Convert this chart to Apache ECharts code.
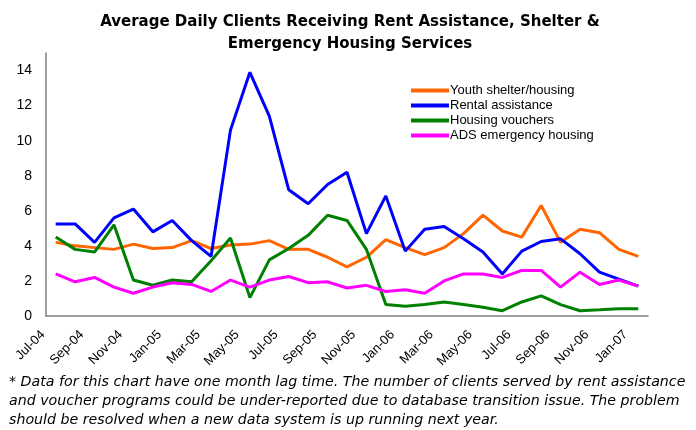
<!DOCTYPE html>
<html>
<head>
<meta charset="utf-8">
<script src="https://cdn.jsdelivr.net/npm/echarts@6/dist/echarts.min.js"></script>
<style>
  html, body { margin: 0; padding: 0; background: #fff; }
  #chart { width: 696px; height: 430px; }
</style>
</head>
<body>
<div id="chart"></div>
<script>
// Monthly categories, Jul-04 .. Jan-07
const months = [
    'Jul-04', 'Aug-04', 'Sep-04', 'Oct-04', 'Nov-04', 'Dec-04',
    'Jan-05', 'Feb-05', 'Mar-05', 'Apr-05', 'May-05', 'Jun-05',
    'Jul-05', 'Aug-05', 'Sep-05', 'Oct-05', 'Nov-05', 'Dec-05',
    'Jan-06', 'Feb-06', 'Mar-06', 'Apr-06', 'May-06', 'Jun-06',
    'Jul-06', 'Aug-06', 'Sep-06', 'Oct-06', 'Nov-06', 'Dec-06',
    'Jan-07'
];

const youthShelter = [
    4.2, 4.0, 3.9, 3.8, 4.1, 3.85, 3.9, 4.3, 3.85, 4.05, 4.1, 4.3,
    3.8, 3.8, 3.35, 2.8, 3.35, 4.35, 3.9, 3.5, 3.9, 4.7, 5.75, 4.85,
    4.5, 6.3, 4.2, 4.95, 4.75, 3.8, 3.4
];

const rentalAssistance = [
    5.25, 5.25, 4.2, 5.6, 6.1, 4.8, 5.45, 4.3, 3.4, 10.6, 13.9, 11.4,
    7.2, 6.4, 7.5, 8.2, 4.7, 6.85, 3.7, 4.95, 5.1, 4.4, 3.65, 2.4,
    3.7, 4.25, 4.4, 3.55, 2.5, 2.1, 1.7
];

const housingVouchers = [
    4.5, 3.8, 3.65, 5.2, 2.05, 1.75, 2.05, 1.95, 3.15, 4.45, 1.05, 3.2,
    3.85, 4.6, 5.75, 5.45, 3.8, 0.65, 0.55, 0.65, 0.8, 0.65, 0.5, 0.3,
    0.8, 1.15, 0.65, 0.3, 0.35, 0.42, 0.42
];

const adsEmergency = [
    2.4, 1.95, 2.2, 1.65, 1.3, 1.65, 1.9, 1.8, 1.4, 2.05, 1.65, 2.05,
    2.25, 1.9, 1.95, 1.6, 1.75, 1.4, 1.5, 1.3, 2.0, 2.4, 2.4, 2.2,
    2.6, 2.6, 1.65, 2.5, 1.8, 2.05, 1.7
];

const seriesNames = ['Youth shelter/housing', 'Rental assistance', 'Housing vouchers', 'ADS emergency housing'];
const seriesColors = ['#FF6600', '#0000FF', '#008000', '#FF00FF'];

const footnote = [
    '* Data for this chart have one month lag time. The number of clients served by rent assistance',
    'and voucher programs could be under-reported due to database transition issue. The problem',
    'should be resolved when a new data system is up running next year.'
];

const FONT = '"Liberation Sans", Arial, sans-serif';
const WIDE_FONT = '"DejaVu Sans", sans-serif';

const chart = echarts.init(document.getElementById('chart'));

function lineSeries(name, data, color) {
    return {
        name: name,
        type: 'line',
        data: data,
        symbol: 'none',
        lineStyle: { width: 3, color: color },
        itemStyle: { color: color },
        emphasis: { disabled: true }
    };
}

const option = {
    animation: false,
    textStyle: { fontFamily: FONT },
    title: {
        text: 'Average Daily Clients Receiving Rent Assistance, Shelter &\nEmergency Housing Services',
        left: 345,
        textAlign: 'center',
        top: 6,
        textStyle: {
            fontFamily: WIDE_FONT,
            fontSize: 15,
            fontWeight: 'bold',
            color: '#000',
            lineHeight: 22
        }
    },
    legend: {
        orient: 'vertical',
        left: 406,
        top: 79,
        itemWidth: 38,
        itemHeight: 4,
        itemGap: 2,
        icon: 'rect',
        textStyle: { fontFamily: FONT, fontSize: 13, color: '#000', padding: [0, 0, 0, -4] },
        data: seriesNames
    },
    grid: {
        left: 46,
        right: 48,
        top: 53,
        bottom: 114,
        containLabel: false
    },
    xAxis: {
        type: 'category',
        data: months,
        boundaryGap: true,
        axisLine: { lineStyle: { color: '#808080', width: 1.5 } },
        axisTick: { show: false },
        axisLabel: {
            interval: 1,
            rotate: 45,
            margin: 4,
            fontSize: 13,
            color: '#000',
            padding: [0, 18, 0, 0]
        },
        splitLine: { show: false }
    },
    yAxis: {
        type: 'value',
        min: 0,
        max: 15,
        interval: 2,
        axisLine: { show: true, lineStyle: { color: '#808080', width: 1.5 } },
        axisTick: { show: false },
        axisLabel: { fontSize: 14, color: '#000', margin: 14, showMaxLabel: false },
        splitLine: { show: false }
    },
    graphic: footnote.map((line, i) => ({
        type: 'text',
        left: 9,
        top: 375 + i * 19,
        style: {
            text: line,
            font: 'italic 14.2px ' + WIDE_FONT,
            fill: '#000'
        }
    })),
    series: seriesNames.map((name, i) =>
        lineSeries(name, [youthShelter, rentalAssistance, housingVouchers, adsEmergency][i], seriesColors[i]))
};

chart.setOption(option);
</script>
</body>
</html>
